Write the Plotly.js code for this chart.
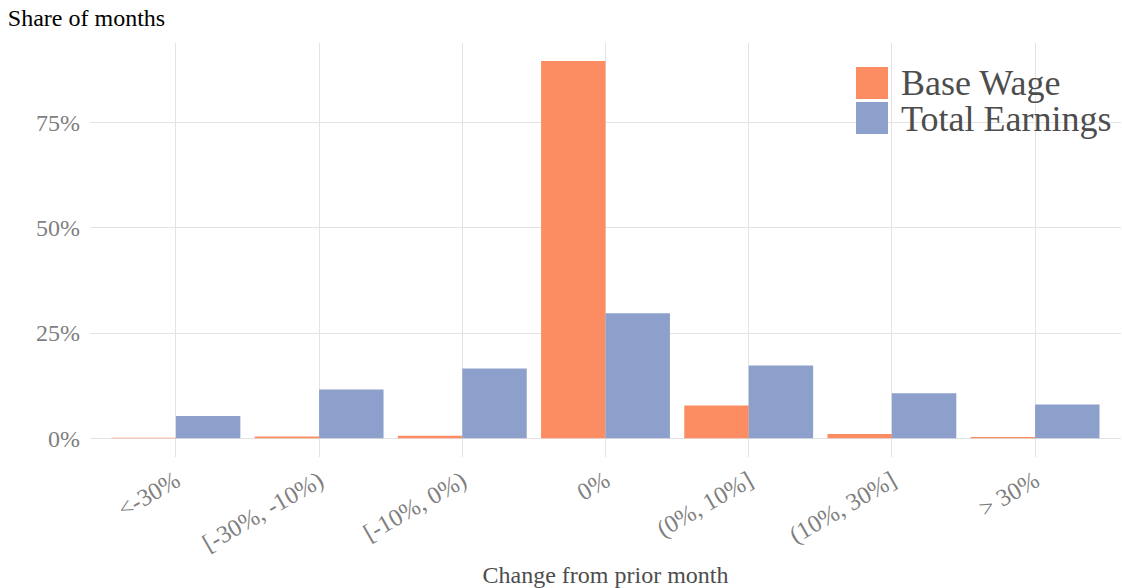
<!DOCTYPE html>
<html>
<head>
<meta charset="utf-8">
<script src="https://cdn.plot.ly/plotly-3.0.1.min.js"></script>
<style>html,body{margin:0;padding:0;background:#fff;}#chart{width:1122px;height:588px;}</style>
</head>
<body>
<div id="chart"></div>
<script>
const categories = ["<-30%", "[-30%, -10%)", "[-10%, 0%)", "0%", "(0%, 10%]", "(10%, 30%]", "> 30%"];
const baseWage = [0.001, 0.004, 0.006, 0.897, 0.078, 0.010, 0.003];
const totalEarnings = [0.053, 0.116, 0.166, 0.297, 0.173, 0.107, 0.080];
const seriesNames = ["Base Wage", "Total Earnings"];
const seriesColors = ["#FC8D62", "#8DA0CB"];
const yTickVals = [0, 0.25, 0.5, 0.75];

const FONT = "Liberation Serif, Times New Roman, serif";

const traces = [
  {type: "bar", name: seriesNames[0], x: categories, y: baseWage, marker: {color: seriesColors[0]}, showlegend: false},
  {type: "bar", name: seriesNames[1], x: categories, y: totalEarnings, marker: {color: seriesColors[1]}, showlegend: false}
];

// manual legend (large squares)
const W = 1031, H = 414, L = 90, T = 43;
const px = v => (v - L) / W;
const py = v => (T + H - v) / H;
const shapes = [
  {type: "rect", xref: "paper", yref: "paper", x0: px(843), x1: px(1122), y0: py(147), y1: py(40), fillcolor: "#ffffff", line: {width: 0}, layer: "between"},
  {type: "rect", xref: "paper", yref: "paper", x0: px(856), x1: px(888), y0: py(99), y1: py(67), fillcolor: seriesColors[0], line: {width: 0}},
  {type: "rect", xref: "paper", yref: "paper", x0: px(856), x1: px(888), y0: py(134), y1: py(102), fillcolor: seriesColors[1], line: {width: 0}}
];
const annotations = [
  {xref: "paper", yref: "paper", x: px(899), y: py(83), xanchor: "left", yanchor: "middle", text: seriesNames[0], showarrow: false, font: {family: FONT, size: 36, color: "#4d4d4d"}},
  {xref: "paper", yref: "paper", x: px(899), y: py(119), xanchor: "left", yanchor: "middle", text: seriesNames[1], showarrow: false, font: {family: FONT, size: 36, color: "#4d4d4d"}}
];

const layout = {
  width: 1122, height: 588, autosize: false,
  margin: {l: L, r: 1, t: T, b: 131, pad: 0},
  paper_bgcolor: "#ffffff", plot_bgcolor: "#ffffff",
  font: {family: FONT, size: 24, color: "#7f7f7f"},
  barmode: "group", bargap: 0.1, bargroupgap: 0,
  title: {text: "Share of months", xref: "container", yref: "container", x: 0.007, xanchor: "left", y: 1 - 18/588, yanchor: "middle", font: {family: FONT, size: 24, color: "#000000"}},
  xaxis: {
    type: "category", range: [-0.6, 6.6], showgrid: true, gridcolor: "#e3e3e3", gridwidth: 1,
    zeroline: false, showline: false, ticks: "", tickangle: -30, ticklabelstandoff: 4,
    tickfont: {family: FONT, size: 24.5, color: "#7f7f7f"},
    title: {text: "Change from prior month", font: {family: FONT, size: 24, color: "#4d4d4d"}, standoff: 11}
  },
  yaxis: {
    range: [-0.0448, 0.94], tickvals: yTickVals, tickformat: ".0%", showgrid: true, gridcolor: "#e3e3e3", gridwidth: 1,
    zeroline: false, showline: false, ticks: "", ticklabelstandoff: 9,
    tickfont: {family: FONT, size: 24, color: "#7f7f7f"}
  },
  shapes: shapes,
  annotations: annotations,
  showlegend: false
};

Plotly.newPlot("chart", traces, layout, {displayModeBar: false, staticPlot: true});
</script>
</body>
</html>
